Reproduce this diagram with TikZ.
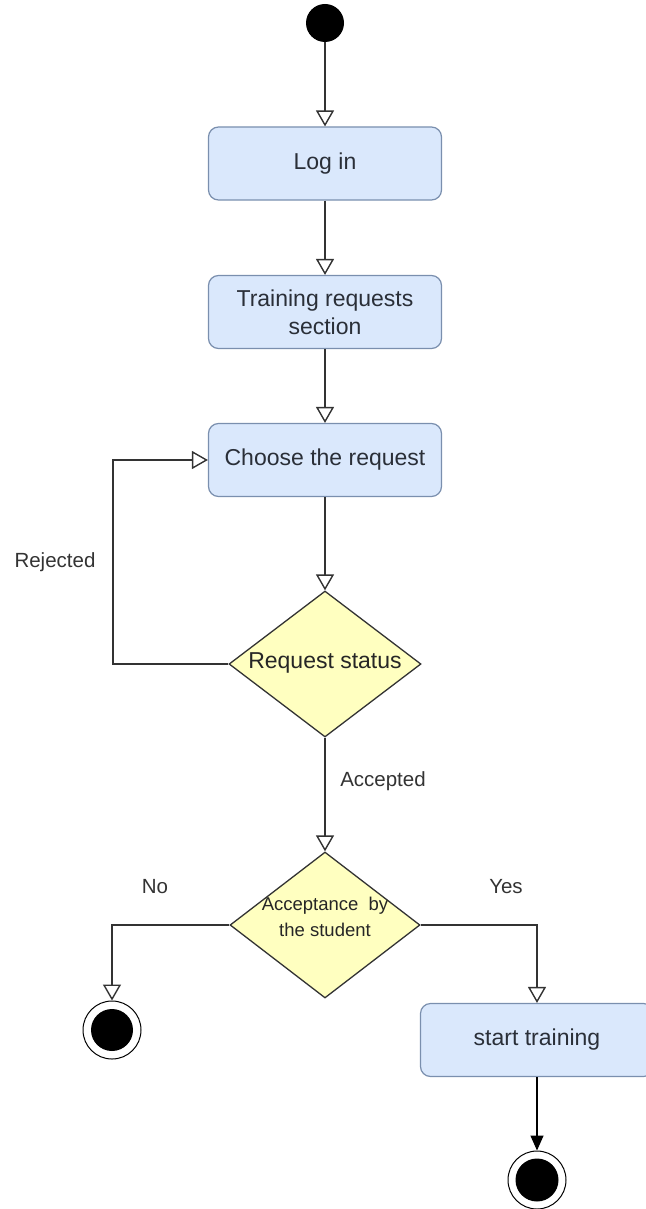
\documentclass[tikz,border=0pt]{standalone}
\usepackage{fontspec}
\setmainfont{Liberation Sans}
\usetikzlibrary{shapes.geometric,arrows.meta}
\definecolor{boxfill}{HTML}{DAE8FC}
\definecolor{boxdraw}{HTML}{7A8FAE}
\definecolor{diafill}{HTML}{FFFFC0}
\definecolor{ink}{HTML}{333333}
\definecolor{txt}{HTML}{2A2F38}
\tikzset{
  actbox/.style={draw=boxdraw, line width=1.2pt, fill=boxfill, rounded corners=10pt,
    minimum width=233pt, minimum height=73pt, inner sep=0pt, align=center,
    text=txt, font=\fontsize{23}{28}\selectfont},
  decbox/.style={shape=diamond, draw=ink, line width=1.3pt, fill=diafill, inner sep=0pt,
    aspect=1.31, minimum width=192pt, minimum height=146pt, align=center, text=black!85},
  startdot/.style={circle, fill=black, minimum size=38pt, inner sep=0pt},
  endring/.style={circle, draw=black, line width=1pt, fill=white, minimum size=58pt, inner sep=0pt},
  flow/.style={draw=ink, line width=1.4pt, -{Triangle[open, width=18pt, length=16pt, line width=1.4pt]}},
  flowfill/.style={draw=black, line width=1.4pt, -{Triangle[width=13pt, length=15pt]}},
  lbl/.style={text=ink, font=\fontsize{20.5}{24}\selectfont, inner sep=0pt}
}
\begin{document}
\begin{tikzpicture}[x=1pt, y=-1pt]
\useasboundingbox (0,0) rectangle (645,1209);
\node[startdot] (s) at (325,23) {};
\node[actbox] (login) at (325,163.5) {Log in};
\node[actbox] (train) at (325,312) {Training requests\\section};
\node[actbox] (choose) at (325,460) {Choose the request};
\node[decbox, font=\fontsize{23}{28}\selectfont] (status) at (325,664) {\raisebox{7pt}{Request status}};
\node[decbox, minimum width=190pt, font=\fontsize{18.5}{27}\selectfont] (accept) at (325,925)
  {\makebox[0pt]{\raisebox{5pt}{\smash{\begin{tabular}{@{}c@{}}Acceptance\ \ by\\[-1pt]the student\end{tabular}}}}};
\node[actbox] (train2) at (537,1040) {start training};
\node[endring] (end1) at (112,1030) {};
\fill (end1) circle (21pt);
\node[endring] (end2) at (537,1180) {};
\fill (end2) circle (21.5pt);
\coordinate (rj) at (113,664);

\draw[flow] (s) -- (login);
\draw[flow] (login) -- (train);
\draw[flow] (train) -- (choose);
\draw[flow] (choose) -- (status);
\draw[flow] (status.west) -- (rj) |- (choose.west);
\draw[flow] (status) -- (accept);
\draw[flow] (accept.west) -| (end1);
\draw[flow] (accept.east) -| (train2);
\draw[flowfill] (train2) -- (end2);

\node[lbl] (lrej) at (55,562) {Rejected};
\node[lbl] (lacc) at (383,781) {Accepted};
\node[lbl] (lno) at (155,887) {No};
\node[lbl] (lyes) at (506,887) {Yes};
\end{tikzpicture}
\end{document}
